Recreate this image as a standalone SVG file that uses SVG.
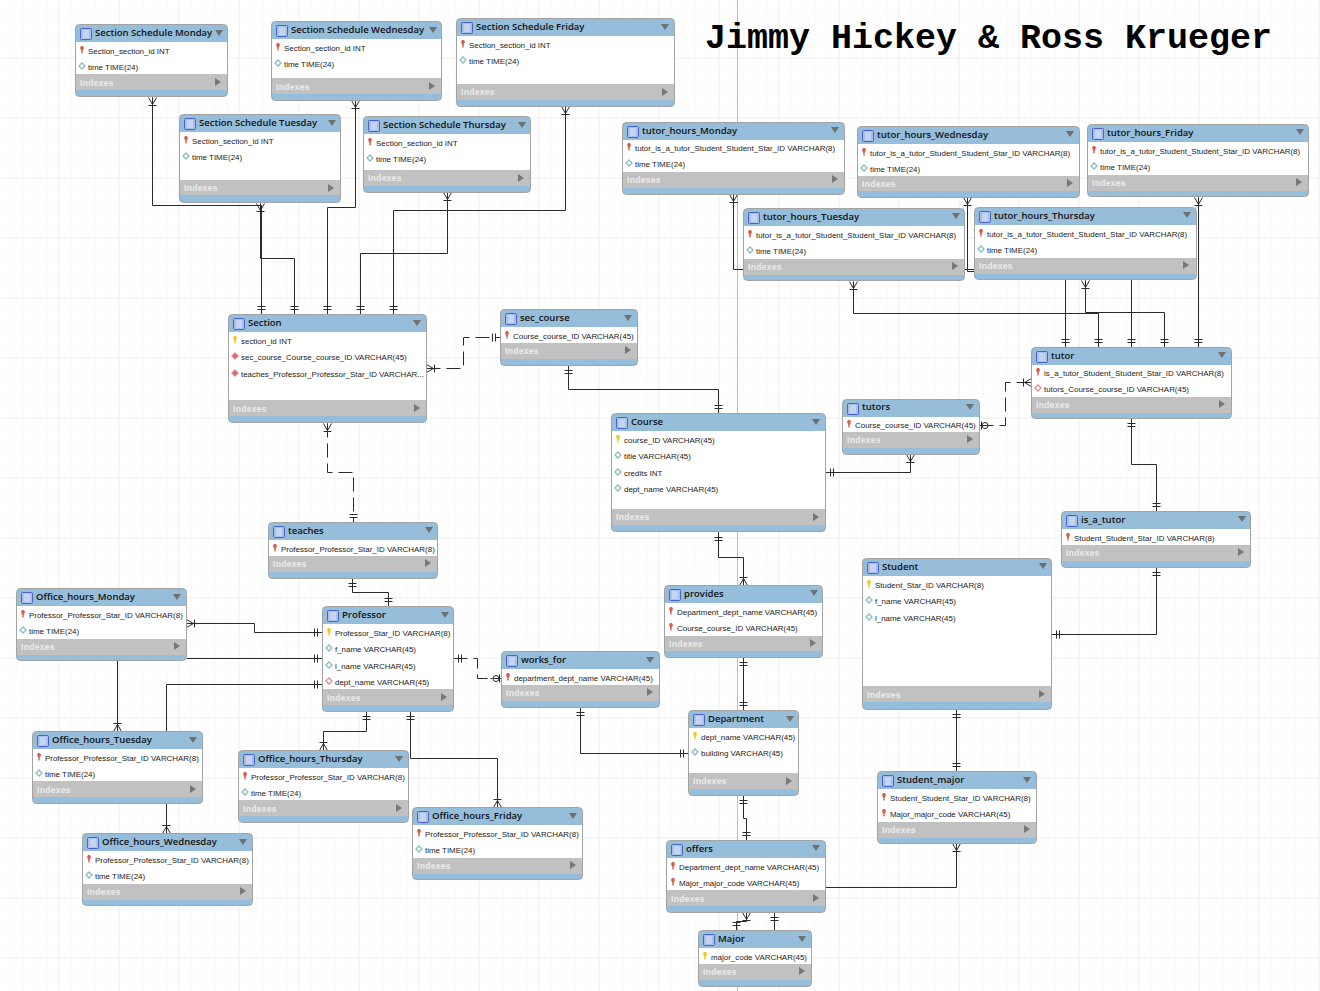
<svg xmlns="http://www.w3.org/2000/svg" xmlns:xlink="http://www.w3.org/1999/xlink" width="1320" height="991" viewBox="0 0 1320 991">
<style>
.tb{fill:#96bdd9;stroke:#a3a3a3;stroke-width:1}
.bd{fill:#fff}
.ix{fill:#c1c1c1}
.h{font:600 9.500px "Open Sans","Liberation Sans",sans-serif;fill:#111;transform:translateY(-.6px)}
.r{font:7.950px "Liberation Sans",Arial,sans-serif;fill:#222;transform:translateY(-.3px)}
.i{font:bold 8.500px "Liberation Sans",Arial,sans-serif;fill:#ececec;letter-spacing:.3px}
.title{font:bold 35px "Liberation Mono","Courier New",monospace;fill:#000}
.c path{fill:none;stroke:#2a2a2a;stroke-width:1}
.c use{fill:none;stroke:#2a2a2a;stroke-width:1}
.d{stroke-dasharray:14 6}
</style>
<defs>
<pattern id="gmin" width="12" height="12" patternUnits="userSpaceOnUse" patternTransform="translate(10.5 9.5)"><path d="M12 0H0V12" fill="none" stroke="#f3f3f3" stroke-width="1"/></pattern>
<pattern id="gmaj" width="60" height="60" patternUnits="userSpaceOnUse" patternTransform="translate(58.5 57.5)"><path d="M60 0H0V60" fill="none" stroke="#e3e3e3" stroke-width="1"/></pattern>
<g id="ti"><rect x="0.500" y="0.500" width="11" height="11" rx="1" fill="#a9c0ea" stroke="#4a62c4"/><path d="M4 2V10M6 2V10M8 2V10" stroke="#dfe7f7" fill="none"/></g>
<path id="td" d="M-4-3H4L0 3Z" fill="#6f6f6f"/>
<path id="tr" d="M-3-4L3 0L-3 4Z" fill="#777"/>
<g id="ky"><path d="M-1-4H1L2-2L.7 1V3.500H-.7V1L-2-2Z" fill="#f0c820"/></g>
<g id="kr"><path d="M-1-4H1L2-2L.7 1V3.500H-.7V1L-2-2Z" fill="#d8604e"/></g>
<path id="dc" d="M0-3L3 0L0 3L-3 0Z" fill="#fff" stroke="#88bcc4" stroke-width="1.300"/>
<path id="dr" d="M0-3.500L3.500 0L0 3.500L-3.500 0Z" fill="#d86a70" stroke="#e8a0a0"/>
<path id="do" d="M0-3L3 0L0 3L-3 0Z" fill="#fff" stroke="#d89090" stroke-width="1.300"/>
<path id="one" d="M0 0H4M5-4V4M8-4V4"/>
<path id="crow" d="M0-4L7 0L0 4M0 0H8M8-4V4"/>
<g id="zero"><path d="M0 0H1M2-4V4M9 0H11"/><circle cx="5.500" cy="0" r="3"/></g>
</defs>
<rect width="1320" height="991" fill="#fff"/>
<rect width="1320" height="991" fill="url(#gmin)"/>
<rect width="1320" height="991" fill="url(#gmaj)"/>
<path d="M737.500 0V991" stroke="#bdbdbd" fill="none"/>
<g id="connectors" class="c" transform="translate(.5 .5)">
<path d="M152 97V205H261V314"/><path d="M260 203V258H294V314"/><path d="M355 100V207H327V314"/><path d="M447 192V253H360V314"/><path d="M565 106V210H393V314"/>
<path class="d" d="M426 368H463V337H500"/><path class="d" d="M327 423V472H353V522"/>
<path d="M568 365V389H718V413"/><path d="M825 472H910V454"/>
<path class="d" d="M979 425H1005V382H1031"/>
<path d="M1131 418V464H1156V511"/><path d="M1156 567V634H1051"/><path d="M956 709V771"/><path d="M956 843V887H825"/>
<path d="M718 532V557H743V585"/><path d="M743 657V710"/><path d="M743 795V818H746V840"/><path d="M746 912V921H736V930"/><path d="M774 912V930"/>
<path d="M352 578V592H388V606"/><path d="M186 623H254V632H322"/><path d="M186 658H322"/><path d="M117 660V731"/><path d="M166 731V684H322"/><path d="M166 803V833"/>
<path d="M366 711V731H323V750"/><path d="M410 711V758H497V807"/>
<path class="d" d="M453 658H477V678H501"/><path d="M580 707V753H688"/>
<path d="M733 194V269H1065V347"/><path d="M967 197V271H1131V347"/><path d="M1198 197V347"/><path d="M853 281V313H1098V347"/><path d="M1085 280V312H1164V347"/>
<use href="#crow" transform="translate(152 97) rotate(90)"/><use href="#crow" transform="translate(260 203) rotate(90)"/><use href="#crow" transform="translate(355 100) rotate(90)"/><use href="#crow" transform="translate(447 192) rotate(90)"/><use href="#crow" transform="translate(565 106) rotate(90)"/>
<use href="#one" transform="translate(261 314) rotate(-90)"/><use href="#one" transform="translate(294 314) rotate(-90)"/><use href="#one" transform="translate(327 314) rotate(-90)"/><use href="#one" transform="translate(360 314) rotate(-90)"/><use href="#one" transform="translate(393 314) rotate(-90)"/>
<use href="#crow" transform="translate(426 368)"/><use href="#one" transform="translate(500 337) rotate(180)"/><use href="#crow" transform="translate(327 423) rotate(90)"/><use href="#one" transform="translate(353 522) rotate(-90)"/>
<use href="#one" transform="translate(568 365) rotate(90)"/><use href="#one" transform="translate(718 413) rotate(-90)"/>
<use href="#one" transform="translate(825 472)"/><use href="#crow" transform="translate(910 454) rotate(90)"/>
<use href="#zero" transform="translate(979 425)"/><use href="#crow" transform="translate(1031 382) rotate(180)"/>
<use href="#one" transform="translate(1131 418) rotate(90)"/><use href="#one" transform="translate(1156 511) rotate(-90)"/><use href="#one" transform="translate(1156 567) rotate(90)"/><use href="#one" transform="translate(1051 634)"/>
<use href="#one" transform="translate(956 709) rotate(90)"/><use href="#one" transform="translate(956 771) rotate(-90)"/><use href="#crow" transform="translate(956 843) rotate(90)"/>
<use href="#one" transform="translate(718 532) rotate(90)"/><use href="#crow" transform="translate(743 585) rotate(-90)"/><use href="#one" transform="translate(743 657) rotate(90)"/><use href="#one" transform="translate(743 710) rotate(-90)"/><use href="#one" transform="translate(743 795) rotate(90)"/><use href="#one" transform="translate(746 840) rotate(-90)"/>
<use href="#crow" transform="translate(746 912) rotate(90)"/><use href="#one" transform="translate(736 930) rotate(-90)"/><use href="#one" transform="translate(774 912) rotate(90)"/>
<use href="#one" transform="translate(352 578) rotate(90)"/><use href="#one" transform="translate(388 606) rotate(-90)"/><use href="#crow" transform="translate(186 623)"/><use href="#one" transform="translate(322 632) rotate(180)"/><use href="#one" transform="translate(322 658) rotate(180)"/><use href="#crow" transform="translate(117 731) rotate(-90)"/><use href="#one" transform="translate(322 684) rotate(180)"/><use href="#crow" transform="translate(166 833) rotate(-90)"/>
<use href="#one" transform="translate(366 711) rotate(90)"/><use href="#crow" transform="translate(323 750) rotate(-90)"/><use href="#one" transform="translate(410 711) rotate(90)"/><use href="#crow" transform="translate(497 807) rotate(-90)"/>
<use href="#one" transform="translate(453 658)"/><use href="#zero" transform="translate(501 678) rotate(180)"/><use href="#one" transform="translate(580 707) rotate(90)"/><use href="#one" transform="translate(688 753) rotate(180)"/>
<use href="#crow" transform="translate(733 194) rotate(90)"/><use href="#crow" transform="translate(967 197) rotate(90)"/><use href="#crow" transform="translate(1198 197) rotate(90)"/><use href="#crow" transform="translate(853 281) rotate(90)"/><use href="#crow" transform="translate(1085 280) rotate(90)"/>
<use href="#one" transform="translate(1065 347) rotate(-90)"/><use href="#one" transform="translate(1098 347) rotate(-90)"/><use href="#one" transform="translate(1131 347) rotate(-90)"/><use href="#one" transform="translate(1164 347) rotate(-90)"/><use href="#one" transform="translate(1198 347) rotate(-90)"/>
</g>
<g id="t1"><rect class="tb" x="75.500" y="24.500" width="152" height="72" rx="4"/><rect class="bd" x="76" y="42" width="151" height="32"/><rect class="ix" x="76" y="74" width="151" height="16"/><use href="#ti" x="80" y="28"/><text class="h" x="95" y="37">Section Schedule Monday</text><use href="#td" x="219" y="33"/><use href="#kr" x="82" y="50"/><text class="r" x="88" y="54">Section_section_id INT</text><use href="#dc" x="82" y="66"/><text class="r" x="88" y="70">time TIME(24)</text><text class="i" x="80" y="86">Indexes</text><use href="#tr" x="218" y="82"/></g>
<g id="t2"><rect class="tb" x="271.500" y="21.500" width="170" height="79" rx="4"/><rect class="bd" x="272" y="39" width="169" height="39"/><rect class="ix" x="272" y="78" width="169" height="16"/><use href="#ti" x="276" y="25"/><text class="h" x="291" y="34">Section Schedule Wednesday</text><use href="#td" x="433" y="30"/><use href="#kr" x="278" y="47"/><text class="r" x="284" y="51">Section_section_id INT</text><use href="#dc" x="278" y="63"/><text class="r" x="284" y="67">time TIME(24)</text><text class="i" x="276" y="90">Indexes</text><use href="#tr" x="432" y="86"/></g>
<g id="t3"><rect class="tb" x="456.500" y="18.500" width="218" height="88" rx="4"/><rect class="bd" x="457" y="36" width="217" height="48"/><rect class="ix" x="457" y="84" width="217" height="16"/><use href="#ti" x="461" y="22"/><text class="h" x="476" y="31">Section Schedule Friday</text><use href="#td" x="665" y="27"/><use href="#kr" x="463" y="44"/><text class="r" x="469" y="48">Section_section_id INT</text><use href="#dc" x="463" y="60"/><text class="r" x="469" y="64">time TIME(24)</text><text class="i" x="461" y="95">Indexes</text><use href="#tr" x="665" y="92"/></g>
<g id="t4"><rect class="tb" x="179.500" y="114.500" width="161" height="88" rx="4"/><rect class="bd" x="180" y="132" width="160" height="48"/><rect class="ix" x="180" y="180" width="160" height="15"/><use href="#ti" x="184" y="118"/><text class="h" x="199" y="127">Section Schedule Tuesday</text><use href="#td" x="332" y="123"/><use href="#kr" x="186" y="140"/><text class="r" x="192" y="144">Section_section_id INT</text><use href="#dc" x="186" y="156"/><text class="r" x="192" y="160">time TIME(24)</text><text class="i" x="184" y="191">Indexes</text><use href="#tr" x="331" y="188"/></g>
<g id="t5"><rect class="tb" x="363.500" y="116.500" width="167" height="76" rx="4"/><rect class="bd" x="364" y="134" width="166" height="36"/><rect class="ix" x="364" y="170" width="166" height="16"/><use href="#ti" x="368" y="120"/><text class="h" x="383" y="129">Section Schedule Thursday</text><use href="#td" x="522" y="125"/><use href="#kr" x="370" y="142"/><text class="r" x="376" y="146">Section_section_id INT</text><use href="#dc" x="370" y="158"/><text class="r" x="376" y="162">time TIME(24)</text><text class="i" x="368" y="181">Indexes</text><use href="#tr" x="521" y="178"/></g>
<g id="t6"><rect class="tb" x="622.500" y="122.500" width="222" height="72" rx="4"/><rect class="bd" x="623" y="140" width="221" height="32"/><rect class="ix" x="623" y="172" width="221" height="16"/><use href="#ti" x="627" y="126"/><text class="h" x="642" y="135">tutor_hours_Monday</text><use href="#td" x="835" y="130"/><use href="#kr" x="629" y="147"/><text class="r" x="635" y="151">tutor_is_a_tutor_Student_Student_Star_ID VARCHAR(8)</text><use href="#dc" x="629" y="163"/><text class="r" x="635" y="167">time TIME(24)</text><text class="i" x="627" y="183">Indexes</text><use href="#tr" x="835" y="179"/></g>
<g id="t7"><rect class="tb" x="857.500" y="126.500" width="222" height="71" rx="4"/><rect class="bd" x="858" y="144" width="221" height="32"/><rect class="ix" x="858" y="176" width="221" height="15"/><use href="#ti" x="862" y="130"/><text class="h" x="877" y="139">tutor_hours_Wednesday</text><use href="#td" x="1070" y="134"/><use href="#kr" x="864" y="152"/><text class="r" x="870" y="156">tutor_is_a_tutor_Student_Student_Star_ID VARCHAR(8)</text><use href="#dc" x="864" y="168"/><text class="r" x="870" y="172">time TIME(24)</text><text class="i" x="862" y="187">Indexes</text><use href="#tr" x="1070" y="183"/></g>
<g id="t8"><rect class="tb" x="1087.500" y="124.500" width="221" height="72" rx="4"/><rect class="bd" x="1088" y="142" width="220" height="33"/><rect class="ix" x="1088" y="175" width="220" height="16"/><use href="#ti" x="1092" y="128"/><text class="h" x="1107" y="137">tutor_hours_Friday</text><use href="#td" x="1300" y="132"/><use href="#kr" x="1094" y="150"/><text class="r" x="1100" y="154">tutor_is_a_tutor_Student_Student_Star_ID VARCHAR(8)</text><use href="#dc" x="1094" y="166"/><text class="r" x="1100" y="170">time TIME(24)</text><text class="i" x="1092" y="186">Indexes</text><use href="#tr" x="1299" y="182"/></g>
<g id="t9"><rect class="tb" x="743.500" y="208.500" width="221" height="72" rx="4"/><rect class="bd" x="744" y="226" width="220" height="33"/><rect class="ix" x="744" y="259" width="220" height="16"/><use href="#ti" x="748" y="212"/><text class="h" x="763" y="221">tutor_hours_Tuesday</text><use href="#td" x="956" y="216"/><use href="#kr" x="750" y="234"/><text class="r" x="756" y="238">tutor_is_a_tutor_Student_Student_Star_ID VARCHAR(8)</text><use href="#dc" x="750" y="250"/><text class="r" x="756" y="254">time TIME(24)</text><text class="i" x="748" y="270">Indexes</text><use href="#tr" x="955" y="266"/></g>
<g id="t10"><rect class="tb" x="974.500" y="207.500" width="222" height="72" rx="4"/><rect class="bd" x="975" y="225" width="221" height="33"/><rect class="ix" x="975" y="258" width="221" height="16"/><use href="#ti" x="979" y="211"/><text class="h" x="994" y="220">tutor_hours_Thursday</text><use href="#td" x="1187" y="215"/><use href="#kr" x="981" y="233"/><text class="r" x="987" y="237">tutor_is_a_tutor_Student_Student_Star_ID VARCHAR(8)</text><use href="#dc" x="981" y="249"/><text class="r" x="987" y="253">time TIME(24)</text><text class="i" x="979" y="269">Indexes</text><use href="#tr" x="1186" y="265"/></g>
<g id="t11"><rect class="tb" x="228.500" y="314.500" width="198" height="108" rx="4"/><rect class="bd" x="229" y="332" width="197" height="68"/><rect class="ix" x="229" y="400" width="197" height="16"/><use href="#ti" x="233" y="318"/><text class="h" x="248" y="327">Section</text><use href="#td" x="417" y="323"/><use href="#ky" x="235" y="340"/><text class="r" x="241" y="344">section_id INT</text><use href="#dr" x="235" y="356"/><text class="r" x="241" y="360">sec_course_Course_course_ID VARCHAR(45)</text><use href="#dr" x="235" y="373"/><text class="r" x="241" y="377">teaches_Professor_Professor_Star_ID VARCHAR...</text><text class="i" x="233" y="412">Indexes</text><use href="#tr" x="417" y="408"/></g>
<g id="t12"><rect class="tb" x="500.500" y="309.500" width="137" height="56" rx="4"/><rect class="bd" x="501" y="327" width="136" height="16"/><rect class="ix" x="501" y="343" width="136" height="16"/><use href="#ti" x="505" y="313"/><text class="h" x="520" y="322">sec_course</text><use href="#td" x="628" y="318"/><use href="#kr" x="507" y="335"/><text class="r" x="513" y="339">Course_course_ID VARCHAR(45)</text><text class="i" x="505" y="354">Indexes</text><use href="#tr" x="628" y="350"/></g>
<g id="t13"><rect class="tb" x="1031.500" y="347.500" width="200" height="71" rx="4"/><rect class="bd" x="1032" y="365" width="199" height="32"/><rect class="ix" x="1032" y="397" width="199" height="16"/><use href="#ti" x="1036" y="351"/><text class="h" x="1051" y="360">tutor</text><use href="#td" x="1222" y="355"/><use href="#kr" x="1038" y="372"/><text class="r" x="1044" y="376">is_a_tutor_Student_Student_Star_ID VARCHAR(8)</text><use href="#do" x="1038" y="388"/><text class="r" x="1044" y="392">tutors_Course_course_ID VARCHAR(45)</text><text class="i" x="1036" y="408">Indexes</text><use href="#tr" x="1222" y="404"/></g>
<g id="t14"><rect class="tb" x="842.500" y="399.500" width="137" height="55" rx="4"/><rect class="bd" x="843" y="417" width="136" height="15"/><rect class="ix" x="843" y="432" width="136" height="16"/><use href="#ti" x="847" y="403"/><text class="h" x="862" y="411">tutors</text><use href="#td" x="970" y="407"/><use href="#kr" x="849" y="424"/><text class="r" x="855" y="428">Course_course_ID VARCHAR(45)</text><text class="i" x="847" y="443">Indexes</text><use href="#tr" x="970" y="439"/></g>
<g id="t15"><rect class="tb" x="611.500" y="413.500" width="214" height="118" rx="4"/><rect class="bd" x="612" y="431" width="213" height="78"/><rect class="ix" x="612" y="509" width="213" height="16"/><use href="#ti" x="616" y="417"/><text class="h" x="631" y="426">Course</text><use href="#td" x="816" y="422"/><use href="#ky" x="618" y="439"/><text class="r" x="624" y="443">course_ID VARCHAR(45)</text><use href="#dc" x="618" y="455"/><text class="r" x="624" y="459">title VARCHAR(45)</text><use href="#dc" x="618" y="472"/><text class="r" x="624" y="476">credits INT</text><use href="#dc" x="618" y="488"/><text class="r" x="624" y="492">dept_name VARCHAR(45)</text><text class="i" x="616" y="520">Indexes</text><use href="#tr" x="816" y="517"/></g>
<g id="t16"><rect class="tb" x="268.500" y="522.500" width="169" height="56" rx="4"/><rect class="bd" x="269" y="540" width="168" height="16"/><rect class="ix" x="269" y="556" width="168" height="16"/><use href="#ti" x="273" y="526"/><text class="h" x="288" y="535">teaches</text><use href="#td" x="429" y="530"/><use href="#kr" x="275" y="548"/><text class="r" x="281" y="552">Professor_Professor_Star_ID VARCHAR(8)</text><text class="i" x="273" y="567">Indexes</text><use href="#tr" x="428" y="563"/></g>
<g id="t17"><rect class="tb" x="1061.500" y="511.500" width="189" height="56" rx="4"/><rect class="bd" x="1062" y="529" width="188" height="16"/><rect class="ix" x="1062" y="545" width="188" height="16"/><use href="#ti" x="1066" y="515"/><text class="h" x="1081" y="524">is_a_tutor</text><use href="#td" x="1242" y="519"/><use href="#kr" x="1068" y="537"/><text class="r" x="1074" y="541">Student_Student_Star_ID VARCHAR(8)</text><text class="i" x="1066" y="556">Indexes</text><use href="#tr" x="1241" y="552"/></g>
<g id="t18"><rect class="tb" x="862.500" y="558.500" width="189" height="151" rx="4"/><rect class="bd" x="863" y="576" width="188" height="110"/><rect class="ix" x="863" y="686" width="188" height="16"/><use href="#ti" x="867" y="562"/><text class="h" x="882" y="571">Student</text><use href="#td" x="1043" y="566"/><use href="#ky" x="869" y="584"/><text class="r" x="875" y="588">Student_Star_ID VARCHAR(8)</text><use href="#dc" x="869" y="600"/><text class="r" x="875" y="604">f_name VARCHAR(45)</text><use href="#dc" x="869" y="617"/><text class="r" x="875" y="621">l_name VARCHAR(45)</text><text class="i" x="867" y="698">Indexes</text><use href="#tr" x="1042" y="694"/></g>
<g id="t19"><rect class="tb" x="664.500" y="585.500" width="158" height="72" rx="4"/><rect class="bd" x="665" y="603" width="157" height="33"/><rect class="ix" x="665" y="636" width="157" height="15"/><use href="#ti" x="669" y="589"/><text class="h" x="684" y="598">provides</text><use href="#td" x="814" y="593"/><use href="#kr" x="671" y="611"/><text class="r" x="677" y="615">Department_dept_name VARCHAR(45)</text><use href="#kr" x="671" y="627"/><text class="r" x="677" y="631">Course_course_ID VARCHAR(45)</text><text class="i" x="669" y="647">Indexes</text><use href="#tr" x="813" y="643"/></g>
<g id="t20"><rect class="tb" x="16.500" y="588.500" width="170" height="72" rx="4"/><rect class="bd" x="17" y="606" width="169" height="33"/><rect class="ix" x="17" y="639" width="169" height="16"/><use href="#ti" x="21" y="592"/><text class="h" x="36" y="601">Office_hours_Monday</text><use href="#td" x="177" y="597"/><use href="#kr" x="23" y="614"/><text class="r" x="29" y="618">Professor_Professor_Star_ID VARCHAR(8)</text><use href="#dc" x="23" y="630"/><text class="r" x="29" y="634">time TIME(24)</text><text class="i" x="21" y="650">Indexes</text><use href="#tr" x="177" y="646"/></g>
<g id="t21"><rect class="tb" x="322.500" y="606.500" width="131" height="105" rx="4"/><rect class="bd" x="323" y="624" width="130" height="66"/><rect class="ix" x="323" y="689" width="130" height="16"/><use href="#ti" x="327" y="610"/><text class="h" x="342" y="619">Professor</text><use href="#td" x="445" y="615"/><use href="#ky" x="329" y="632"/><text class="r" x="335" y="636">Professor_Star_ID VARCHAR(8)</text><use href="#dc" x="329" y="648"/><text class="r" x="335" y="652">f_name VARCHAR(45)</text><use href="#dc" x="329" y="665"/><text class="r" x="335" y="669">l_name VARCHAR(45)</text><use href="#do" x="329" y="681"/><text class="r" x="335" y="685">dept_name VARCHAR(45)</text><text class="i" x="327" y="701">Indexes</text><use href="#tr" x="444" y="697"/></g>
<g id="t22"><rect class="tb" x="501.500" y="651.500" width="158" height="56" rx="4"/><rect class="bd" x="502" y="669" width="157" height="16"/><rect class="ix" x="502" y="685" width="157" height="16"/><use href="#ti" x="506" y="655"/><text class="h" x="521" y="664">works_for</text><use href="#td" x="650" y="660"/><use href="#kr" x="508" y="677"/><text class="r" x="514" y="681">department_dept_name VARCHAR(45)</text><text class="i" x="506" y="696">Indexes</text><use href="#tr" x="650" y="692"/></g>
<g id="t23"><rect class="tb" x="688.500" y="710.500" width="110" height="85" rx="4"/><rect class="bd" x="689" y="728" width="109" height="45"/><rect class="ix" x="689" y="773" width="109" height="16"/><use href="#ti" x="693" y="714"/><text class="h" x="708" y="723">Department</text><use href="#td" x="790" y="719"/><use href="#ky" x="695" y="736"/><text class="r" x="701" y="740">dept_name VARCHAR(45)</text><use href="#dc" x="695" y="752"/><text class="r" x="701" y="756">building VARCHAR(45)</text><text class="i" x="693" y="784">Indexes</text><use href="#tr" x="789" y="781"/></g>
<g id="t24"><rect class="tb" x="32.500" y="731.500" width="170" height="72" rx="4"/><rect class="bd" x="33" y="749" width="169" height="32"/><rect class="ix" x="33" y="781" width="169" height="16"/><use href="#ti" x="37" y="735"/><text class="h" x="52" y="744">Office_hours_Tuesday</text><use href="#td" x="193" y="740"/><use href="#kr" x="39" y="757"/><text class="r" x="45" y="761">Professor_Professor_Star_ID VARCHAR(8)</text><use href="#dc" x="39" y="773"/><text class="r" x="45" y="777">time TIME(24)</text><text class="i" x="37" y="793">Indexes</text><use href="#tr" x="193" y="789"/></g>
<g id="t25"><rect class="tb" x="238.500" y="750.500" width="170" height="72" rx="4"/><rect class="bd" x="239" y="768" width="169" height="33"/><rect class="ix" x="239" y="800" width="169" height="16"/><use href="#ti" x="243" y="754"/><text class="h" x="258" y="763">Office_hours_Thursday</text><use href="#td" x="399" y="759"/><use href="#kr" x="245" y="776"/><text class="r" x="251" y="780">Professor_Professor_Star_ID VARCHAR(8)</text><use href="#dc" x="245" y="792"/><text class="r" x="251" y="796">time TIME(24)</text><text class="i" x="243" y="812">Indexes</text><use href="#tr" x="399" y="808"/></g>
<g id="t26"><rect class="tb" x="877.500" y="771.500" width="159" height="72" rx="4"/><rect class="bd" x="878" y="789" width="158" height="33"/><rect class="ix" x="878" y="822" width="158" height="16"/><use href="#ti" x="882" y="775"/><text class="h" x="897" y="784">Student_major</text><use href="#td" x="1027" y="780"/><use href="#kr" x="884" y="797"/><text class="r" x="890" y="801">Student_Student_Star_ID VARCHAR(8)</text><use href="#kr" x="884" y="813"/><text class="r" x="890" y="817">Major_major_code VARCHAR(45)</text><text class="i" x="882" y="833">Indexes</text><use href="#tr" x="1027" y="829"/></g>
<g id="t27"><rect class="tb" x="412.500" y="807.500" width="170" height="72" rx="4"/><rect class="bd" x="413" y="825" width="169" height="33"/><rect class="ix" x="413" y="858" width="169" height="16"/><use href="#ti" x="417" y="811"/><text class="h" x="432" y="820">Office_hours_Friday</text><use href="#td" x="573" y="816"/><use href="#kr" x="419" y="833"/><text class="r" x="425" y="837">Professor_Professor_Star_ID VARCHAR(8)</text><use href="#dc" x="419" y="849"/><text class="r" x="425" y="853">time TIME(24)</text><text class="i" x="417" y="869">Indexes</text><use href="#tr" x="573" y="865"/></g>
<g id="t28"><rect class="tb" x="82.500" y="833.500" width="170" height="72" rx="4"/><rect class="bd" x="83" y="851" width="169" height="33"/><rect class="ix" x="83" y="884" width="169" height="16"/><use href="#ti" x="87" y="837"/><text class="h" x="102" y="846">Office_hours_Wednesday</text><use href="#td" x="243" y="842"/><use href="#kr" x="89" y="859"/><text class="r" x="95" y="863">Professor_Professor_Star_ID VARCHAR(8)</text><use href="#dc" x="89" y="875"/><text class="r" x="95" y="879">time TIME(24)</text><text class="i" x="87" y="895">Indexes</text><use href="#tr" x="243" y="891"/></g>
<g id="t29"><rect class="tb" x="666.500" y="840.500" width="159" height="72" rx="4"/><rect class="bd" x="667" y="858" width="158" height="32"/><rect class="ix" x="667" y="890" width="158" height="16"/><use href="#ti" x="671" y="844"/><text class="h" x="686" y="853">offers</text><use href="#td" x="816" y="848"/><use href="#kr" x="673" y="866"/><text class="r" x="679" y="870">Department_dept_name VARCHAR(45)</text><use href="#kr" x="673" y="882"/><text class="r" x="679" y="886">Major_major_code VARCHAR(45)</text><text class="i" x="671" y="902">Indexes</text><use href="#tr" x="816" y="898"/></g>
<g id="t30"><rect class="tb" x="698.500" y="930.500" width="113" height="56" rx="4"/><rect class="bd" x="699" y="948" width="112" height="16"/><rect class="ix" x="699" y="964" width="112" height="16"/><use href="#ti" x="703" y="934"/><text class="h" x="718" y="943">Major</text><use href="#td" x="802" y="939"/><use href="#ky" x="705" y="956"/><text class="r" x="711" y="960">major_code VARCHAR(45)</text><text class="i" x="703" y="975">Indexes</text><use href="#tr" x="802" y="971"/></g>
<text class="title" x="705" y="48" id="title">Jimmy Hickey &amp; Ross Krueger</text>
</svg>
